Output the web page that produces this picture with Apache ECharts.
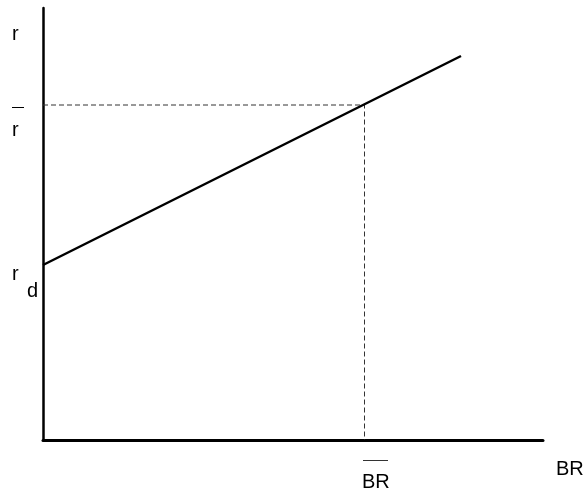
<!DOCTYPE html>
<html><head><meta charset="utf-8">
<script src="https://cdn.jsdelivr.net/npm/echarts@6/dist/echarts.min.js"></script>
<style>html,body{margin:0;padding:0;background:#fff}#c{width:586px;height:493px}</style>
</head><body><div id="c"></div>
<script>
// Schedule line (BR on x, r on y), arbitrary units
const lineBR = [0, 418];
const lineR = [175, 384];
const barBR = 321.5;   // BR-bar
const barR = 335;      // r-bar
const xMax = 500, yMax = 432;

const chart = echarts.init(document.getElementById('c'));
const font = '"Liberation Sans", Arial, sans-serif';
chart.setOption({
  animation: false,
  grid: {left: 43, top: 8, width: 500, height: 432},
  xAxis: {type: 'value', min: 0, max: xMax, axisLine: {lineStyle: {color: '#000', width: 3}}, axisTick: {show: false}, axisLabel: {show: false}, splitLine: {show: false}},
  yAxis: {type: 'value', min: 0, max: yMax, axisLine: {show: true, lineStyle: {color: '#000', width: 2.5}}, axisTick: {show: false}, axisLabel: {show: false}, splitLine: {show: false}},
  series: [
    {type: 'line', data: lineBR.map((x, i) => [x, lineR[i]]), symbol: 'none', lineStyle: {color: '#000', width: 2.5}},
    {type: 'line', data: [[0, barR], [barBR, barR], [barBR, 0]], symbol: 'none', z: 1, lineStyle: {color: '#333', width: 1, type: [5, 3]}}
  ]
});
const g = [];
const txt = (x, y, s) => g.push({type: 'text', x, y, style: {text: s, font: '20px ' + font, fill: '#000', verticalAlign: 'top'}});
txt(12, 24, 'r');
txt(12, 120, 'r');
txt(12, 264, 'r');
txt(27, 281, 'd');
txt(556, 459, 'BR');
txt(362, 472, 'BR');
g.push({type: 'line', shape: {x1: 12, y1: 107.5, x2: 24, y2: 107.5}, style: {stroke: '#000', lineWidth: 1}});
g.push({type: 'line', shape: {x1: 363, y1: 460.5, x2: 388, y2: 460.5}, style: {stroke: '#333', lineWidth: 1}});
chart.setOption({graphic: g});
</script></body></html>
